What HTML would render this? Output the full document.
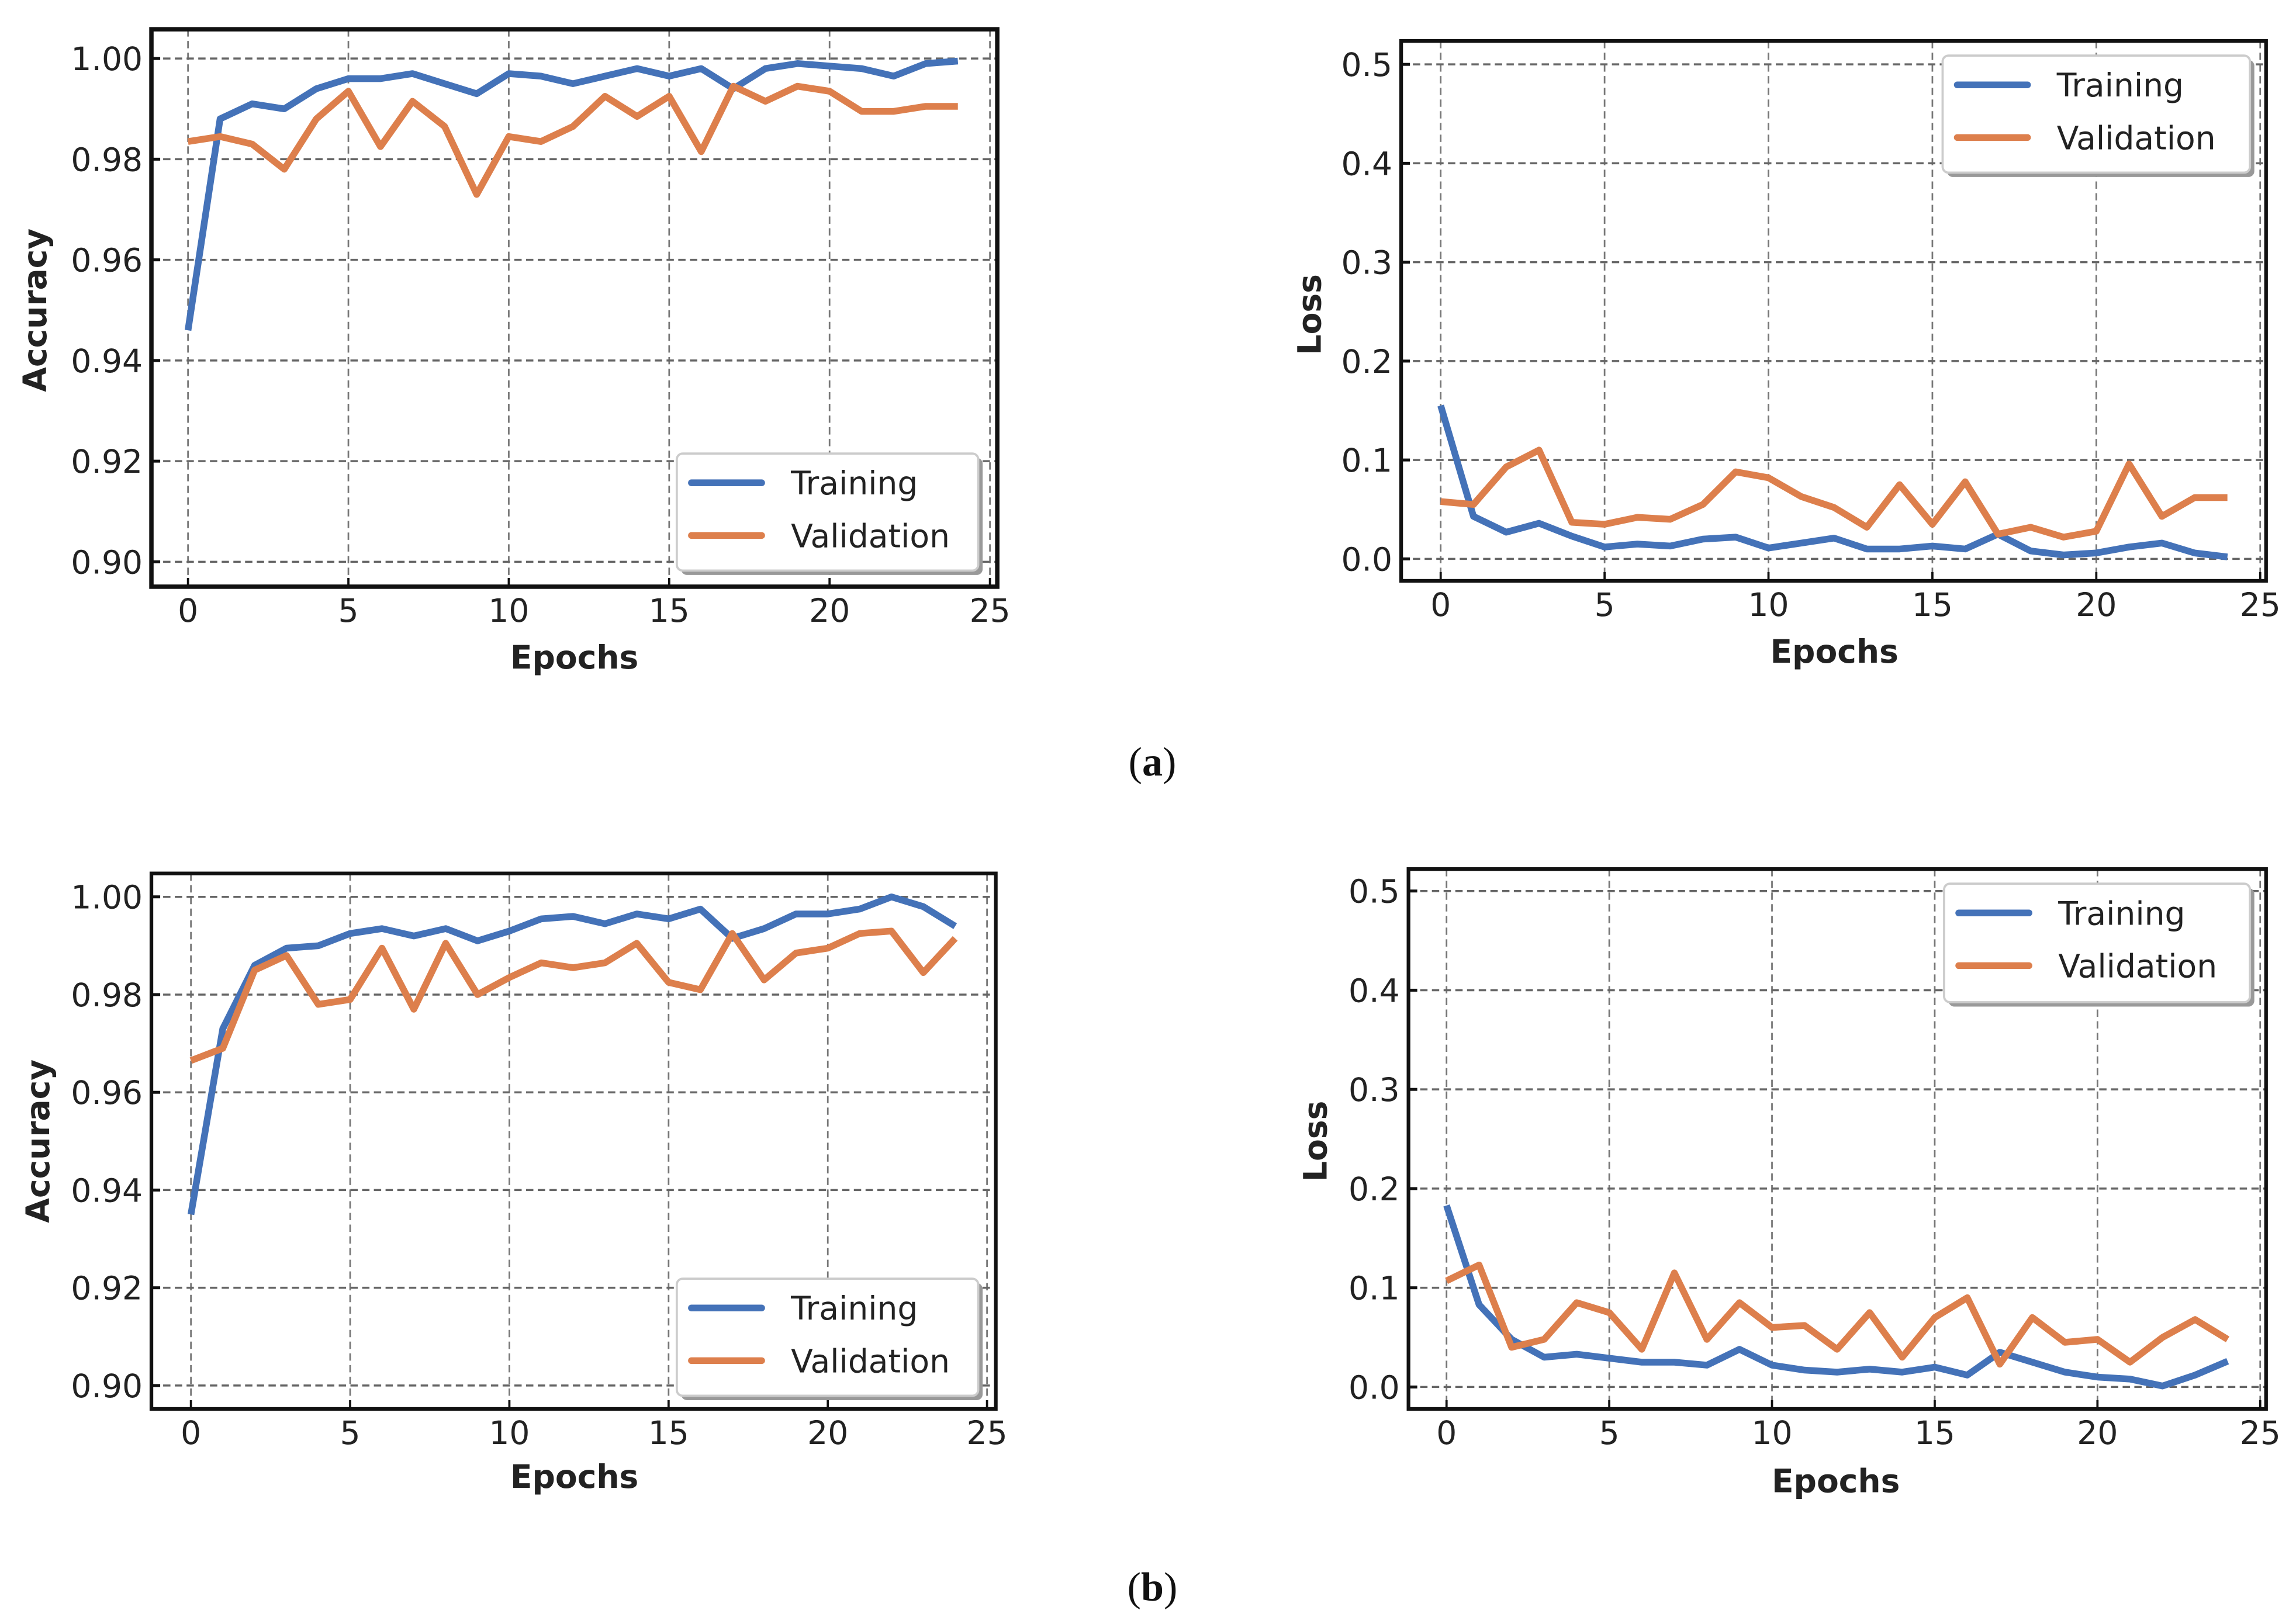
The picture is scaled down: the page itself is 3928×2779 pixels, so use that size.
<!DOCTYPE html>
<html><head><meta charset="utf-8">
<style>
html,body{margin:0;padding:0;background:#fff;}
svg{display:block;}
text{font-family:"DejaVu Sans","Liberation Sans",sans-serif;fill:#222;}
text.cap{font-family:"Liberation Serif",serif;fill:#111;}
</style></head>
<body>
<svg id="fig" width="3928" height="2779" viewBox="0 0 1568 1110" xmlns="http://www.w3.org/2000/svg">
<rect width="1568" height="1110" fill="#fff"/>
<text class="cap" x="787" y="530" font-size="28" text-anchor="middle">(<tspan font-weight="bold">a</tspan>)</text>
<text class="cap" x="787" y="1094" font-size="28" text-anchor="middle">(<tspan font-weight="bold">b</tspan>)</text>
</svg>
<script>
const epochs = [0,1,2,3,4,5,6,7,8,9,10,11,12,13,14,15,16,17,18,19,20,21,22,23,24];
const xTicks = [0,5,10,15,20,25];
const accTicks = [0.90,0.92,0.94,0.96,0.98,1.00];
const lossTicks = [0.0,0.1,0.2,0.3,0.4,0.5];
const aAccTrain = [0.946,0.988,0.991,0.990,0.994,0.996,0.996,0.997,0.995,0.993,0.997,0.9965,0.995,0.9965,0.998,0.9965,0.998,0.994,0.998,0.999,0.9985,0.998,0.9965,0.999,0.9995];
const aAccVal = [0.9835,0.9845,0.983,0.978,0.988,0.9935,0.9825,0.9915,0.9865,0.973,0.9845,0.9835,0.9865,0.9925,0.9885,0.9925,0.9815,0.9945,0.9915,0.9945,0.9935,0.9895,0.9895,0.9905,0.9905];
const aLossTrain = [0.155,0.043,0.027,0.036,0.023,0.012,0.015,0.013,0.020,0.022,0.011,0.016,0.021,0.010,0.010,0.013,0.010,0.025,0.008,0.004,0.006,0.012,0.016,0.006,0.002];
const aLossVal = [0.058,0.055,0.093,0.110,0.037,0.035,0.042,0.040,0.055,0.088,0.082,0.063,0.052,0.032,0.075,0.035,0.078,0.025,0.032,0.022,0.028,0.096,0.043,0.062,0.062];
const bAccTrain = [0.935,0.973,0.986,0.9895,0.990,0.9925,0.9935,0.992,0.9935,0.991,0.993,0.9955,0.996,0.9945,0.9965,0.9955,0.9975,0.9915,0.9935,0.9965,0.9965,0.9975,1.000,0.998,0.994];
const bAccVal = [0.9665,0.969,0.985,0.988,0.978,0.979,0.9895,0.977,0.9905,0.980,0.9835,0.9865,0.9855,0.9865,0.9905,0.9825,0.981,0.9925,0.983,0.9885,0.9895,0.9925,0.993,0.9845,0.9915];
const bLossTrain = [0.183,0.083,0.048,0.030,0.033,0.029,0.025,0.025,0.022,0.038,0.022,0.017,0.015,0.018,0.015,0.020,0.012,0.035,0.025,0.015,0.010,0.008,0.001,0.012,0.026];
const bLossVal = [0.107,0.123,0.040,0.048,0.085,0.075,0.038,0.115,0.048,0.085,0.060,0.062,0.038,0.075,0.030,0.070,0.090,0.023,0.070,0.045,0.048,0.025,0.050,0.068,0.048];

const NS="http://www.w3.org/2000/svg";
const svg=document.getElementById('fig');
function mk(tag,attrs,parent){const e=document.createElementNS(NS,tag);for(const k in attrs)e.setAttribute(k,attrs[k]);(parent||svg).appendChild(e);return e;}

function panel(cfg){
  const g=mk('g',{});
  
  
  const sx=v=>cfg.x0+(v-0)*(cfg.x25-cfg.x0)/25;
  const sy=v=>cfg.yb+(v-cfg.vb)*(cfg.yt-cfg.yb)/(cfg.vt-cfg.vb);
  xTicks.forEach(t=>{
    const l=mk('line',{x1:sx(t),x2:sx(t),y1:cfg.top,y2:cfg.bottom,stroke:'#777','stroke-width':1.1,'stroke-dasharray':'5,3'},g);
    
    
    const tk=mk('line',{x1:sx(t),x2:sx(t),y1:cfg.bottom,y2:cfg.bottom-6,stroke:'#111','stroke-width':1.5},g);
    
    
    const tx=mk('text',{x:sx(t),y:cfg.bottom+24,'font-size':22,'text-anchor':'middle'},g);
    tx.textContent=String(t);
    
    
  });
  cfg.ticks.forEach(t=>{
    const l=mk('line',{x1:cfg.left,x2:cfg.right,y1:sy(t),y2:sy(t),stroke:'#666','stroke-width':1.4,'stroke-dasharray':'5,3'},g);
    
    
    const tk=mk('line',{x1:cfg.left,x2:cfg.left+6,y1:sy(t),y2:sy(t),stroke:'#111','stroke-width':2},g);
    
    
    const tx=mk('text',{x:cfg.left-6,y:sy(t)+8,'font-size':22,'text-anchor':'end'},g);
    tx.textContent=t.toFixed(cfg.dec);
    
    
  });
  const series=[[cfg.train,'#4472b8','training-line'],[cfg.val,'#dd7f4c','validation-line']];
  series.forEach(([d,c,n])=>{
    const p=mk('polyline',{points:epochs.map((e,i)=>sx(e)+','+sy(d[i])).join(' '),fill:'none',stroke:c,'stroke-width':4.6,'stroke-linejoin':'round'},g);
    
    
  });
  const fr=mk('rect',{x:cfg.left,y:cfg.top,width:cfg.right-cfg.left,height:cfg.bottom-cfg.top,fill:'none',stroke:'#111','stroke-width':cfg.bw},g);
  
  
  const L=cfg.leg;
  const lg=mk('g',{},g);
  
  
  mk('rect',{x:L[0]+3,y:L[1]+3,width:L[2]-L[0],height:L[3]-L[1],rx:4,fill:'#999'},lg);
  mk('rect',{x:L[0],y:L[1],width:L[2]-L[0],height:L[3]-L[1],rx:4,fill:'#fff',stroke:'#ccc','stroke-width':1.5},lg);
  [['Training','#4472b8'],['Validation','#dd7f4c']].forEach(([t,c],i)=>{
    const yy=L[1]+20+i*36;
    const ln=mk('line',{x1:L[0]+10,x2:L[0]+58,y1:yy,y2:yy,stroke:c,'stroke-width':4.6,'stroke-linecap':'round'},lg);
    
    
    const tx=mk('text',{x:L[0]+78,y:yy+8,'font-size':22},lg);
    tx.textContent=t;
    
    
  });
  const xt=mk('text',{x:cfg.xl[0],y:cfg.xl[1],'font-size':22,'font-weight':'bold','text-anchor':'middle'},g);
  xt.textContent='Epochs';
  
  
  const yt=mk('text',{x:0,y:0,'font-size':22,'font-weight':'bold','text-anchor':'middle',transform:`translate(${cfg.yl[0]},${cfg.yl[1]}) rotate(-90)`},g);
  yt.textContent=cfg.ylab;
  
  
}

panel({name:'accuracy-chart-a',left:103,right:681,top:20,bottom:401,x0:128,x25:676,yt:40,yb:384,vt:1.0,vb:0.9,ticks:accTicks,dec:2,train:aAccTrain,val:aAccVal,leg:[462,310,668,390],xl:[392,457],yl:[31,212],ylab:'Accuracy',bw:3});
panel({name:'loss-chart-a',left:957,right:1548,top:28,bottom:397,x0:984,x25:1544,yt:44,yb:382,vt:0.5,vb:0.0,ticks:lossTicks,dec:1,train:aLossTrain,val:aLossVal,leg:[1327,38,1537,118],xl:[1253,453],yl:[902,215],ylab:'Loss',bw:2.5});
panel({name:'accuracy-chart-b',left:103,right:680,top:597,bottom:963,x0:130,x25:674,yt:613,yb:947,vt:1.0,vb:0.9,ticks:accTicks,dec:2,train:bAccTrain,val:bAccVal,leg:[462,874,668,954],xl:[392,1017],yl:[33,780],ylab:'Accuracy',bw:2.5});
panel({name:'loss-chart-b',left:962,right:1548,top:594,bottom:963,x0:988,x25:1544,yt:609,yb:948,vt:0.5,vb:0.0,ticks:lossTicks,dec:1,train:bLossTrain,val:bLossVal,leg:[1328,604,1537,685],xl:[1254,1020],yl:[906,780],ylab:'Loss',bw:2.5});
</script>
</body></html>
